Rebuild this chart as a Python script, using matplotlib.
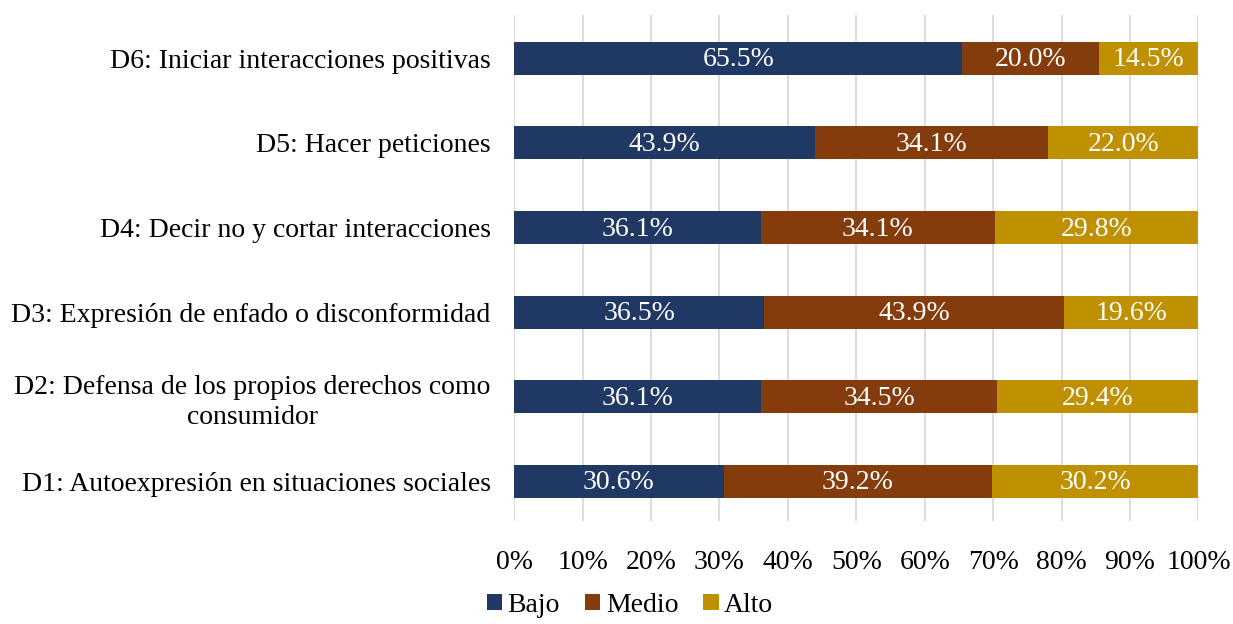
import matplotlib.pyplot as plt
import numpy as np

plt.rcParams['font.family'] = ['Liberation Serif', 'DejaVu Serif']

categories = ['D1: Autoexpresión en situaciones sociales',
              'D2: Defensa de los propios derechos como\nconsumidor',
              'D3: Expresión de enfado o disconformidad',
              'D4: Decir no y cortar interacciones',
              'D5: Hacer peticiones',
              'D6: Iniciar interacciones positivas']
bajo = [30.6, 36.1, 36.5, 36.1, 43.9, 65.5]
medio = [39.2, 34.5, 43.9, 34.1, 34.1, 20.0]
alto = [30.2, 29.4, 19.6, 29.8, 22.0, 14.5]
series = ['Bajo', 'Medio', 'Alto']
colors = ['#203864', '#843C0C', '#BF9000']

fs = 20
fig = plt.figure(figsize=(12.33, 6.24), dpi=100)
ax = fig.add_axes([0.417, 0.165, 0.555, 0.811])

y = np.arange(len(categories))
left = np.zeros(len(categories))
for name, vals, c in zip(series, [bajo, medio, alto], colors):
    vals = np.array(vals)
    ax.barh(y, vals, left=left, height=0.39, color=c, label=name, zorder=3)
    for yi, l, v in zip(y, left, vals):
        ax.text(l + v / 2, yi - 0.02, f'{v:.1f}%', ha='center', va='center',
                color='white', fontsize=fs, zorder=4)
    left += vals

ax.set_xlim(0, 100)
ax.set_ylim(-0.47, 5.51)
ax.set_xticks(np.arange(0, 101, 10))
ax.set_xticklabels([f'{t}%' for t in range(0, 101, 10)], fontsize=fs)
ax.set_yticks(y)
ax.set_yticklabels(categories, fontsize=fs, multialignment='center', linespacing=1.3)
ax.tick_params(axis='both', length=0)
ax.tick_params(axis='x', pad=21)
ax.tick_params(axis='y', pad=17)
ax.xaxis.grid(True, color='#D9D9D9', linewidth=1.3, zorder=0)
for s in ax.spines.values():
    s.set_visible(False)

fig.legend(loc='lower center', bbox_to_anchor=(0.511, -0.03), ncol=3, frameon=False,
           fontsize=fs, handlelength=0.55, handleheight=0.55, handletextpad=0.2,
           columnspacing=0.9)

fig.savefig('out.png', dpi=100)
